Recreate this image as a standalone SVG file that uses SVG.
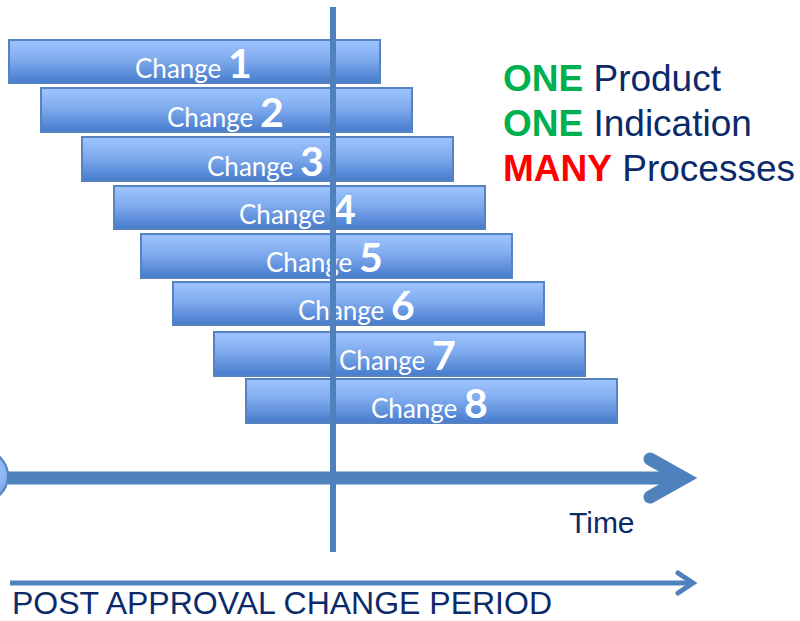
<svg xmlns="http://www.w3.org/2000/svg" width="800" height="621" viewBox="0 0 800 621">
<defs>
<linearGradient id="barGrad" x1="0" y1="0" x2="0" y2="1">
<stop offset="0" stop-color="#9fc5ff"/>
<stop offset="0.45" stop-color="#80abee"/>
<stop offset="1" stop-color="#457bcc"/>
</linearGradient>
<radialGradient id="circGrad" cx="0.7" cy="0.4" r="0.8">
<stop offset="0" stop-color="#a5c8ff"/>
<stop offset="1" stop-color="#5a8ad6"/>
</radialGradient>
</defs>
<style>
.bar{fill:url(#barGrad);stroke:#5683c0;stroke-width:2}
.lbl{font-family:Lato,"Open Sans",sans-serif;fill:#ffffff;font-size:26px}
.num{font-size:41px;font-weight:bold}
.axis{stroke:#4f81bd;fill:none}
.big{font-family:"Liberation Sans",Arial,sans-serif;font-size:37px;fill:#0b2a6a}
.grn{fill:#00b050;font-weight:bold}
.red{fill:#ff0000;font-weight:bold}
.navy{font-family:"Liberation Sans",Arial,sans-serif;fill:#0b2a6a}
</style>
<rect width="800" height="621" fill="#ffffff"/>
<g id="change1"><rect class="bar" x="9" y="40" width="371" height="43"/><text class="lbl" x="135" y="78">Change <tspan class="num">1</tspan></text></g>
<g id="change2"><rect class="bar" x="41" y="88" width="371" height="44"/><text class="lbl" x="167" y="127">Change <tspan class="num">2</tspan></text></g>
<g id="change3"><rect class="bar" x="82" y="137" width="371" height="44"/><text class="lbl" x="207" y="176">Change <tspan class="num">3</tspan></text></g>
<g id="change4"><rect class="bar" x="114" y="186" width="371" height="43"/><text class="lbl" x="239" y="224">Change <tspan class="num">4</tspan></text></g>
<g id="change5"><rect class="bar" x="141" y="234" width="371" height="44"/><text class="lbl" x="266" y="272">Change <tspan class="num">5</tspan></text></g>
<g id="change6"><rect class="bar" x="173" y="282" width="371" height="43"/><text class="lbl" x="298" y="320">Change <tspan class="num">6</tspan></text></g>
<g id="change7"><rect class="bar" x="214" y="332" width="371" height="44"/><text class="lbl" x="339" y="370">Change <tspan class="num">7</tspan></text></g>
<g id="change8"><rect class="bar" x="246" y="379" width="371" height="44"/><text class="lbl" x="371" y="418">Change <tspan class="num">8</tspan></text></g>
<g id="start"><circle cx="-18" cy="476" r="26" fill="url(#circGrad)" stroke="#4f81bd" stroke-width="2"/></g>
<g id="connectors">
<line class="axis" x1="333" y1="7" x2="333" y2="552" stroke-width="6"/>
<line class="axis" x1="8" y1="478" x2="684" y2="478" stroke-width="13"/>
<polyline class="axis" points="650,459 684,478 650,497" stroke-width="13" stroke-linecap="round" stroke-linejoin="miter"/>
<line class="axis" x1="10" y1="583" x2="692" y2="583" stroke-width="5"/>
<polyline class="axis" points="678,573 693,583 678,593" stroke-width="5" stroke-linecap="round" stroke-linejoin="miter"/>
</g>
<g id="summary">
<text class="big" x="503" y="91"><tspan class="grn">ONE</tspan> Product</text>
<text class="big" x="503" y="136"><tspan class="grn">ONE</tspan> Indication</text>
<text class="big" x="503" y="181"><tspan class="red">MANY</tspan> Processes</text>
</g>
<text class="navy" x="569" y="533" font-size="30">Time</text>
<text class="navy" x="12" y="614" font-size="32">POST APPROVAL CHANGE PERIOD</text>
</svg>
